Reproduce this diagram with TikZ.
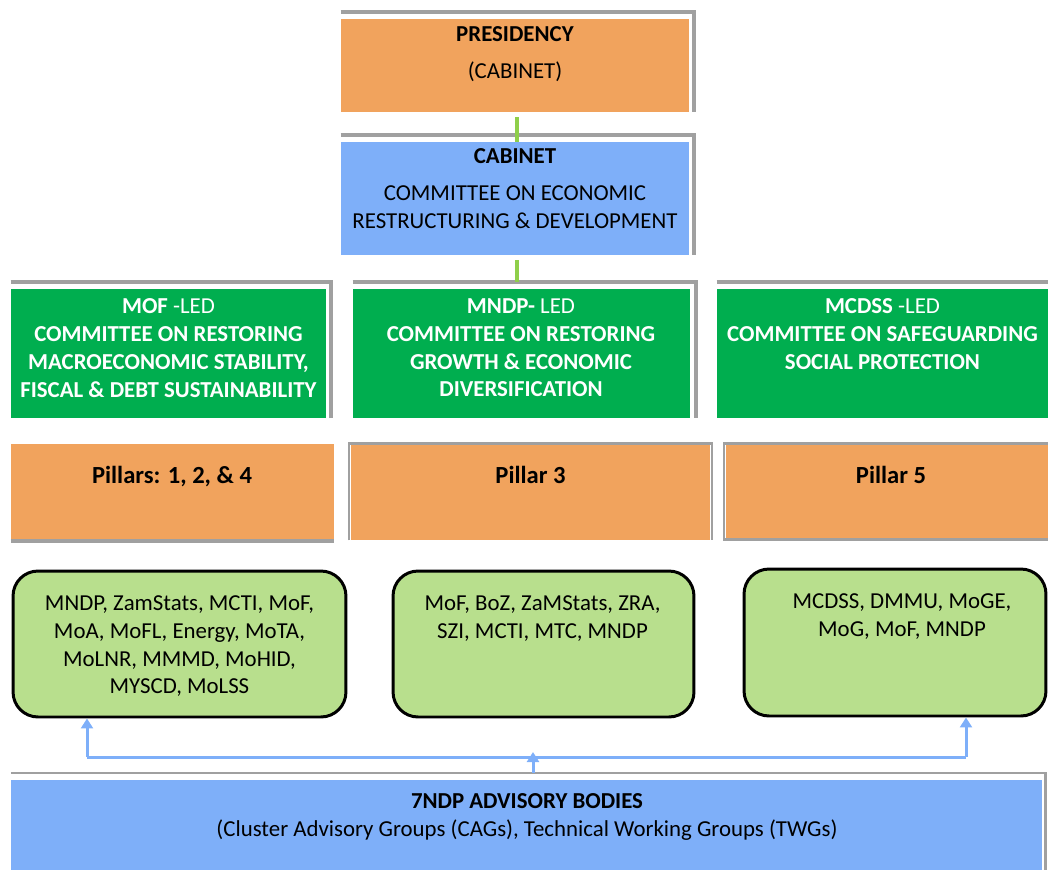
\documentclass[tikz,border=0pt]{standalone}
\usepackage{fontspec}
\setmainfont{Carlito}
\usetikzlibrary{arrows.meta,calc}
\definecolor{boxorange}{HTML}{F1A35D}
\definecolor{boxblue}{HTML}{7EAFF9}
\definecolor{boxgreen}{HTML}{00AE4F}
\definecolor{memgreen}{HTML}{B8DF8D}
\definecolor{shade}{HTML}{A0A0A0}
\definecolor{linkgreen}{HTML}{8FCF4A}
\begin{document}
\begin{tikzpicture}[x=0.02cm, y=-0.02cm,
    box/.style={rectangle, inner sep=0pt},
    member/.style={rectangle, rounded corners=0.5cm, draw=black, line width=1.7pt, fill=memgreen, inner sep=0pt},
    txt/.style={anchor=north, inner sep=0pt, align=center, font=\fontsize{13}{15.9}\selectfont},
    pillartxt/.style={anchor=north, inner sep=0pt, font=\fontsize{14}{16.8}\selectfont\bfseries},
    frame/.style={draw=shade, line width=0.08cm},
    thinframe/.style={draw=shade, line width=0.05cm},
    link/.style={draw=linkgreen, line width=0.08cm},
    flow/.style={draw=boxblue, line width=0.06cm}]
    \useasboundingbox (0,0) rectangle (1048,870);

    % top of the chart
    \node[box, fill=boxorange, minimum width=6.96cm, minimum height=1.86cm] (pres) at (515,65.5) {};
    \node[box, fill=boxblue, minimum width=6.96cm, minimum height=2.26cm] (cab) at (515,198.5) {};
    \draw[frame] ([yshift=0.14cm]pres.north west) -| ([xshift=0.1cm]pres.south east);
    \draw[frame] ([yshift=0.14cm]cab.north west) -| ([xshift=0.1cm]cab.south east);

    % committees
    \node[box, fill=boxgreen, minimum width=6.30cm, minimum height=2.58cm] (g1) at (168.5,353.5) {};
    \node[box, fill=boxgreen, minimum width=6.74cm, minimum height=2.58cm] (g2) at (521.5,353.5) {};
    \node[box, fill=boxgreen, minimum width=6.62cm, minimum height=2.58cm] (g3) at (882.5,353.5) {};
    \draw[frame] ([yshift=0.14cm]g1.north west) -| ([xshift=0.1cm]g1.south east);
    \draw[frame] ([yshift=0.14cm]g2.north west) -| ([xshift=0.12cm]g2.south east);
    \draw[frame] ([yshift=0.14cm]g3.north west) -- ([yshift=0.14cm,xshift=0.1cm]g3.north east);

    % pillars
    \node[box, fill=boxorange, minimum width=6.46cm, minimum height=1.90cm] (p1) at (172.5,491.5) {};
    \node[box, fill=boxorange, minimum width=7.18cm, minimum height=1.92cm] (p2) at (530.5,492) {};
    \node[box, fill=boxorange, minimum width=6.44cm, minimum height=1.90cm] (p3) at (887,491.5) {};
    \draw[frame] ([yshift=-0.04cm]p1.south west) -- ([yshift=-0.04cm]p1.south east);
    \draw[thinframe] ([xshift=-0.03cm]p2.south west) |- ([xshift=0.03cm]p2.north east) -- ([xshift=0.03cm]p2.south east);
    \draw[thinframe] ([xshift=0.1cm]p3.north east) -- ([xshift=-0.03cm]p3.north west) -- ([xshift=-0.03cm]p3.south west) -- ([xshift=0.1cm]p3.south east);

    % member ministries
    \node[member, minimum width=6.66cm, minimum height=2.92cm] (r1) at (179.5,644) {};
    \node[member, minimum width=6.02cm, minimum height=2.92cm] (r2) at (543.5,644) {};
    \node[member, minimum width=6.04cm, minimum height=2.94cm] (r3) at (895,642.5) {};

    % advisory bodies
    \node[box, fill=boxblue, minimum width=20.62cm, minimum height=1.8cm] (adv) at (526.5,825) {};
    \draw[thinframe] ([yshift=0.13cm]adv.north west) -| ([xshift=0.06cm]adv.south east);

    % texts
    \node[txt] (presT) at (515,26.5) {\textbf{PRESIDENCY}\\[5pt](CABINET)};
    \node[txt] (cabT) at (515,148.5) {\textbf{CABINET}\\[5pt]COMMITTEE ON ECONOMIC\\RESTRUCTURING \& DEVELOPMENT};
    \node[txt, text=white] (g1T) at (168.5,298) {\textbf{MOF} -LED\\\textbf{COMMITTEE ON RESTORING}\\\textbf{MACROECONOMIC STABILITY,}\\\textbf{FISCAL \& DEBT SUSTAINABILITY}};
    \node[txt, text=white] (g2T) at (521,298) {\textbf{MNDP-} LED\\\textbf{COMMITTEE ON RESTORING}\\\textbf{GROWTH \& ECONOMIC}\\\textbf{DIVERSIFICATION}};
    \node[txt, text=white] (g3T) at (882.5,298) {\textbf{MCDSS} -LED\\\textbf{COMMITTEE ON SAFEGUARDING}\\\textbf{SOCIAL PROTECTION}};
    \node[pillartxt] (p1T) at (172,465.5) {Pillars: 1, 2, \& 4};
    \node[pillartxt] (p2T) at (530.5,465.5) {Pillar 3};
    \node[pillartxt] (p3T) at (891,465.5) {Pillar 5};
    \node[txt] (r1T) at (179.5,595) {MNDP, ZamStats, MCTI, MoF,\\MoA, MoFL, Energy, MoTA,\\MoLNR, MMMD, MoHID,\\MYSCD, MoLSS};
    \node[txt] (r2T) at (542.5,595) {MoF, BoZ, ZaMStats, ZRA,\\SZI, MCTI, MTC, MNDP};
    \node[txt] (r3T) at (902,593.5) {MCDSS, DMMU, MoGE,\\MoG, MoF, MNDP};
    \node[txt] (advT) at (527,793.5) {\textbf{7NDP ADVISORY BODIES}\\(Cluster Advisory Groups (CAGs), Technical Working Groups (TWGs)};

    % connectors
    \draw[link] ([xshift=0.04cm,yshift=-0.1cm]pres.south) -- ([xshift=0.04cm]cab.north);
    \draw[link] ([xshift=0.04cm,yshift=-0.1cm]cab.south) -- ([xshift=0.04cm,yshift=0.14cm]cab.south |- g2.north);

    \coordinate (split) at (533,757);
    \coordinate (c1) at (87,757);
    \coordinate (c3) at (966,757);
    \draw[flow] (c1) -- (c3);
    \draw[flow, -{Triangle[width=0.24cm,length=0.2cm]}] (c1) -- (c1 |- r1.south);
    \draw[flow, -{Triangle[width=0.24cm,length=0.2cm]}] (c3) -- (c3 |- r3.south);
    \draw[flow, -{Triangle[width=0.24cm,length=0.2cm]}] (split |- adv.north) ++(0,-7) -- ([yshift=0.1cm]split);
\end{tikzpicture}
\end{document}
